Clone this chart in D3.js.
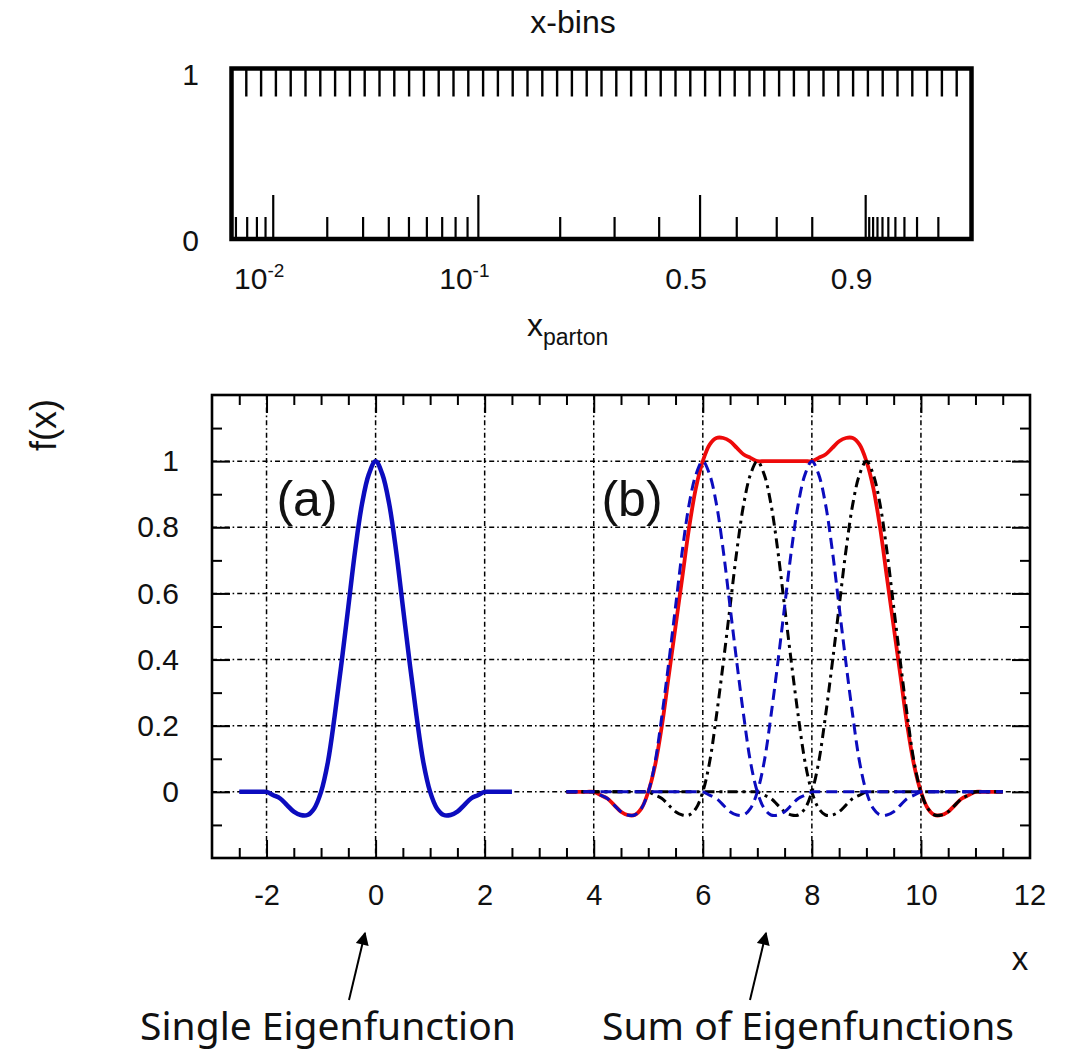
<!DOCTYPE html>
<html>
<head>
<meta charset="utf-8">
<script src="https://cdn.jsdelivr.net/npm/d3@7"></script>
<style>
  body { margin: 0; background: #fff; }
  svg { display: block; }
  text { fill: #111; }
</style>
</head>
<body>
<div id="chart"></div>
<script>
// ---------- top panel: x-bins vs x_parton ----------
const nBins = 50;
const xpMajor = [0.01, 0.1, 0.5, 0.9];
const xpMinor = [0.006, 0.007, 0.008, 0.009,
                 0.02, 0.03, 0.04, 0.05, 0.06, 0.07, 0.08, 0.09,
                 0.2, 0.3, 0.4, 0.6, 0.7, 0.8,
                 0.91, 0.92, 0.93, 0.94, 0.95, 0.96, 0.97, 0.98, 0.99];
const xpLabels = [
  { v: 0.01, base: "10", sup: "-2" },
  { v: 0.1,  base: "10", sup: "-1" },
  { v: 0.5,  base: "0.5", sup: "" },
  { v: 0.9,  base: "0.9", sup: "" }
];
// where x_parton values fall on the bin axis
const xpKnots  = [0.0056, 0.006, 0.01, 0.02, 0.05, 0.1, 0.5, 0.7, 0.9, 0.99, 0.9967];
const binKnots = [0, 0.30, 2.82, 6.47, 11.99, 16.68, 31.66, 36.84, 42.85, 47.76, 50];

// ---------- bottom panel: eigenfunctions, sampled every 0.125 ----------
// (a) x from -2.5 to 2.5
const single = [0, 0, 0, 0,
  0, -0.01, -0.02, -0.04, -0.06, -0.07, -0.07, -0.05, 0, 0.09, 0.23, 0.39, 0.56, 0.73, 0.87, 0.96,
  1, 0.96, 0.87, 0.73, 0.56, 0.39, 0.23, 0.09, 0, -0.05, -0.07, -0.07, -0.06, -0.04, -0.02, -0.01, 0,
  0, 0, 0, 0];
// (b) x from 3.5 to 11.5
const eig6 = [0, 0, 0, 0,
  0, -0.01, -0.02, -0.04, -0.06, -0.07, -0.07, -0.05, 0, 0.09, 0.23, 0.39, 0.56, 0.73, 0.87, 0.96,
  1, 0.96, 0.87, 0.73, 0.56, 0.39, 0.23, 0.09, 0, -0.05, -0.07, -0.07, -0.06, -0.04, -0.02, -0.01, 0,
  0, 0, 0, 0, 0, 0, 0, 0, 0, 0, 0, 0, 0, 0, 0, 0, 0, 0, 0, 0, 0, 0, 0, 0, 0, 0, 0, 0];
const eig7 = [0, 0, 0, 0, 0, 0, 0, 0, 0, 0, 0, 0,
  0, -0.01, -0.02, -0.04, -0.06, -0.07, -0.07, -0.05, 0, 0.09, 0.23, 0.39, 0.56, 0.73, 0.87, 0.96,
  1, 0.96, 0.87, 0.73, 0.56, 0.39, 0.23, 0.09, 0, -0.05, -0.07, -0.07, -0.06, -0.04, -0.02, -0.01, 0,
  0, 0, 0, 0, 0, 0, 0, 0, 0, 0, 0, 0, 0, 0, 0, 0, 0, 0, 0, 0];
const eig8 = [0, 0, 0, 0, 0, 0, 0, 0, 0, 0, 0, 0, 0, 0, 0, 0, 0, 0, 0, 0,
  0, -0.01, -0.02, -0.04, -0.06, -0.07, -0.07, -0.05, 0, 0.09, 0.23, 0.39, 0.56, 0.73, 0.87, 0.96,
  1, 0.96, 0.87, 0.73, 0.56, 0.39, 0.23, 0.09, 0, -0.05, -0.07, -0.07, -0.06, -0.04, -0.02, -0.01, 0,
  0, 0, 0, 0, 0, 0, 0, 0, 0, 0, 0, 0];
const eig9 = [0, 0, 0, 0, 0, 0, 0, 0, 0, 0, 0, 0, 0, 0, 0, 0, 0, 0, 0, 0, 0, 0, 0, 0, 0, 0, 0, 0,
  0, -0.01, -0.02, -0.04, -0.06, -0.07, -0.07, -0.05, 0, 0.09, 0.23, 0.39, 0.56, 0.73, 0.87, 0.96,
  1, 0.96, 0.87, 0.73, 0.56, 0.39, 0.23, 0.09, 0, -0.05, -0.07, -0.07, -0.06, -0.04, -0.02, -0.01, 0,
  0, 0, 0, 0];
const eigSum = [0, 0, 0, 0, 0,
  -0.01, -0.02, -0.04, -0.06, -0.07, -0.07, -0.05, 0,
  0.08, 0.20, 0.35, 0.50, 0.65, 0.80, 0.92, 1,
  1.05, 1.07, 1.07, 1.06, 1.04, 1.02, 1.01,
  1, 1, 1, 1, 1, 1, 1, 1, 1,
  1.01, 1.02, 1.04, 1.06, 1.07, 1.07, 1.05, 1,
  0.92, 0.80, 0.65, 0.50, 0.35, 0.20, 0.08, 0,
  -0.05, -0.07, -0.07, -0.06, -0.04, -0.02, -0.01,
  0, 0, 0, 0, 0];

const yTicks = [0, 0.2, 0.4, 0.6, 0.8, 1];
const xTicks = [-2, 0, 2, 4, 6, 8, 10, 12];

const W = 1074, H = 1051;
const sans = "'Liberation Sans', Arial, sans-serif";
const capFont = "'Noto Sans', 'DejaVu Sans', sans-serif";
const svg = d3.select("#chart").append("svg").attr("width", W).attr("height", H)
  .style("font-family", sans);

// ===== top panel =====
const topBox = { left: 231.5, right: 971.5, top: 68.5, bottom: 239 };
const binX = d3.scaleLinear().domain([0, nBins]).range([topBox.left, topBox.right]);
const logit = v => Math.log10(v / (1 - v));
const xpToBin = d3.scaleLinear().domain(xpKnots.map(logit)).range(binKnots);
const xp = v => binX(xpToBin(logit(v)));

const gt = svg.append("g");
gt.selectAll("line.bin").data(d3.range(1, nBins)).join("line")
  .attr("x1", d => binX(d)).attr("x2", d => binX(d))
  .attr("y1", topBox.top).attr("y2", topBox.top + 28)
  .attr("stroke", "#000").attr("stroke-width", 2.4);
gt.selectAll("line.minor").data(xpMinor).join("line")
  .attr("x1", d => xp(d)).attr("x2", d => xp(d))
  .attr("y1", topBox.bottom).attr("y2", topBox.bottom - 22)
  .attr("stroke", "#000").attr("stroke-width", 2.2);
gt.selectAll("line.major").data(xpMajor).join("line")
  .attr("x1", d => xp(d)).attr("x2", d => xp(d))
  .attr("y1", topBox.bottom).attr("y2", topBox.bottom - 44)
  .attr("stroke", "#000").attr("stroke-width", 2.2);
gt.append("rect")
  .attr("x", topBox.left).attr("y", topBox.top)
  .attr("width", topBox.right - topBox.left).attr("height", topBox.bottom - topBox.top)
  .attr("fill", "none").attr("stroke", "#000").attr("stroke-width", 4.5);

gt.append("text").attr("x", 573).attr("y", 33).attr("text-anchor", "middle")
  .attr("font-size", 32).text("x-bins");
gt.append("text").attr("x", 199).attr("y", 85).attr("text-anchor", "end")
  .attr("font-size", 30).text("1");
gt.append("text").attr("x", 199).attr("y", 251).attr("text-anchor", "end")
  .attr("font-size", 30).text("0");

const lab = gt.selectAll("text.xl").data(xpLabels).join("text")
  .attr("x", d => xp(d.v) - 14).attr("y", 289)
  .attr("text-anchor", "middle").attr("font-size", 30);
lab.append("tspan").text(d => d.base);
lab.filter(d => d.sup).append("tspan")
  .attr("font-size", 19).attr("dy", -12).text(d => d.sup);

const xpt = gt.append("text").attr("x", 527).attr("y", 336).attr("font-size", 32);
xpt.append("tspan").text("x");
xpt.append("tspan").attr("font-size", 23).attr("dy", 9).text("parton");

// ===== bottom panel =====
const botBox = { left: 212, right: 1030, top: 395, bottom: 858 };
const x = d3.scaleLinear().domain([-3, 12]).range([botBox.left, botBox.right]);
const y = d3.scaleLinear().domain([-0.2, 1.2]).range([botBox.bottom, botBox.top]);

const gb = svg.append("g");
const gridDash = "5,3,1.6,3";
gb.selectAll("line.gx").data(xTicks.filter(d => d > -3 && d < 12)).join("line")
  .attr("x1", d => x(d)).attr("x2", d => x(d))
  .attr("y1", botBox.top).attr("y2", botBox.bottom)
  .attr("stroke", "#000").attr("stroke-width", 1.5).attr("stroke-dasharray", gridDash);
gb.selectAll("line.gy").data(yTicks).join("line")
  .attr("x1", botBox.left).attr("x2", botBox.right)
  .attr("y1", d => y(d)).attr("y2", d => y(d))
  .attr("stroke", "#000").attr("stroke-width", 1.5).attr("stroke-dasharray", gridDash);

const xMinor = d3.range(-2.5, 12, 0.5).filter(d => d % 2 !== 0);
const yMinor = d3.range(-0.1, 1.2, 0.1).filter(d => Math.round(d * 10) % 2 !== 0);

function inward(axis, scale, vals, size, pos, labels) {
  const a = axis(scale).tickValues(vals).tickSize(-size);
  a.tickFormat(labels ? (d => String(+d.toFixed(1))) : "");
  const g = gb.append("g").attr("transform", pos).call(a);
  g.attr("font-family", null).attr("font-size", null);
  g.select(".domain").remove();
  g.selectAll(".tick line").attr("stroke", "#000").attr("stroke-width", 2);
  g.selectAll(".tick text").attr("fill", "#111").style("font-family", sans);
  return g;
}
const bx = inward(d3.axisBottom, x, xTicks.filter(d => d < 12), 18, `translate(0,${botBox.bottom})`, true);
bx.selectAll("text").attr("font-size", 29).attr("y", 26);
// 12 label sits at the frame corner
gb.append("text").attr("x", x(12)).attr("y", botBox.bottom + 26).attr("dy", "0.71em")
  .attr("text-anchor", "middle").attr("font-size", 29).text("12");
inward(d3.axisBottom, x, xMinor, 10, `translate(0,${botBox.bottom})`, false);
inward(d3.axisTop, x, xTicks.filter(d => d < 12), 18, `translate(0,${botBox.top})`, false);
inward(d3.axisTop, x, xMinor, 10, `translate(0,${botBox.top})`, false);
const ly = inward(d3.axisLeft, y, yTicks, 18, `translate(${botBox.left},0)`, true);
ly.selectAll("text").attr("font-size", 30).attr("x", -33);
inward(d3.axisLeft, y, yMinor, 10, `translate(${botBox.left},0)`, false);
inward(d3.axisRight, y, yTicks, 18, `translate(${botBox.right},0)`, false);
inward(d3.axisRight, y, yMinor, 10, `translate(${botBox.right},0)`, false);

// sample positions of the two panels' curves
const xA = d3.range(single.length).map(i => -2.5 + i * 0.125);
const xB = d3.range(eigSum.length).map(i => 3.5 + i * 0.125);
const line = xs => d3.line().x((d, i) => x(xs[i])).y(d => y(d)).curve(d3.curveCatmullRom.alpha(0.5));
const blue = "#0c0cbe";

gb.append("path").datum(single).attr("d", line(xA))
  .attr("fill", "none").attr("stroke", blue).attr("stroke-width", 4.5);
gb.append("path").datum(eigSum).attr("d", line(xB))
  .attr("fill", "none").attr("stroke", "#ee0a0a").attr("stroke-width", 3.8);
[eig7, eig9].forEach(s => gb.append("path").datum(s).attr("d", line(xB))
  .attr("fill", "none").attr("stroke", "#000").attr("stroke-width", 3)
  .attr("stroke-dasharray", "10,5,3,5"));
[eig6, eig8].forEach(s => gb.append("path").datum(s).attr("d", line(xB))
  .attr("fill", "none").attr("stroke", blue).attr("stroke-width", 3)
  .attr("stroke-dasharray", "11,6"));

gb.append("rect")
  .attr("x", botBox.left).attr("y", botBox.top)
  .attr("width", botBox.right - botBox.left).attr("height", botBox.bottom - botBox.top)
  .attr("fill", "none").attr("stroke", "#000").attr("stroke-width", 2.6);

gb.append("text").attr("x", 307).attr("y", 516).attr("text-anchor", "middle")
  .attr("font-size", 50).text("(a)");
gb.append("text").attr("x", 632).attr("y", 516).attr("text-anchor", "middle")
  .attr("font-size", 50).text("(b)");
gb.append("text").attr("transform", "translate(56,425) rotate(-90)")
  .attr("text-anchor", "middle").attr("font-size", 36).text("f(x)");
gb.append("text").attr("x", 1020).attr("y", 970).attr("text-anchor", "middle")
  .attr("font-size", 33).text("x");

// ===== annotations =====
svg.append("defs").append("marker").attr("id", "head")
  .attr("viewBox", "0 0 10 10").attr("refX", 9).attr("refY", 5)
  .attr("markerWidth", 8).attr("markerHeight", 6.5).attr("orient", "auto")
  .attr("markerUnits", "strokeWidth")
  .append("path").attr("d", "M0,0 L10,5 L0,10 Z").attr("fill", "#000");
const arrows = [
  { x1: 349, y1: 1000, x2: 365, y2: 933 },
  { x1: 750, y1: 1000, x2: 766, y2: 933 }
];
svg.selectAll("line.arrow").data(arrows).join("line")
  .attr("x1", d => d.x1).attr("y1", d => d.y1).attr("x2", d => d.x2).attr("y2", d => d.y2)
  .attr("stroke", "#000").attr("stroke-width", 2).attr("marker-end", "url(#head)");

svg.append("text").attr("x", 328).attr("y", 1040).attr("text-anchor", "middle")
  .style("font-family", capFont).attr("font-size", 39)
  .text("Single Eigenfunction");
svg.append("text").attr("x", 808).attr("y", 1040).attr("text-anchor", "middle")
  .style("font-family", capFont).attr("font-size", 39)
  .text("Sum of Eigenfunctions");
</script>
</body>
</html>
